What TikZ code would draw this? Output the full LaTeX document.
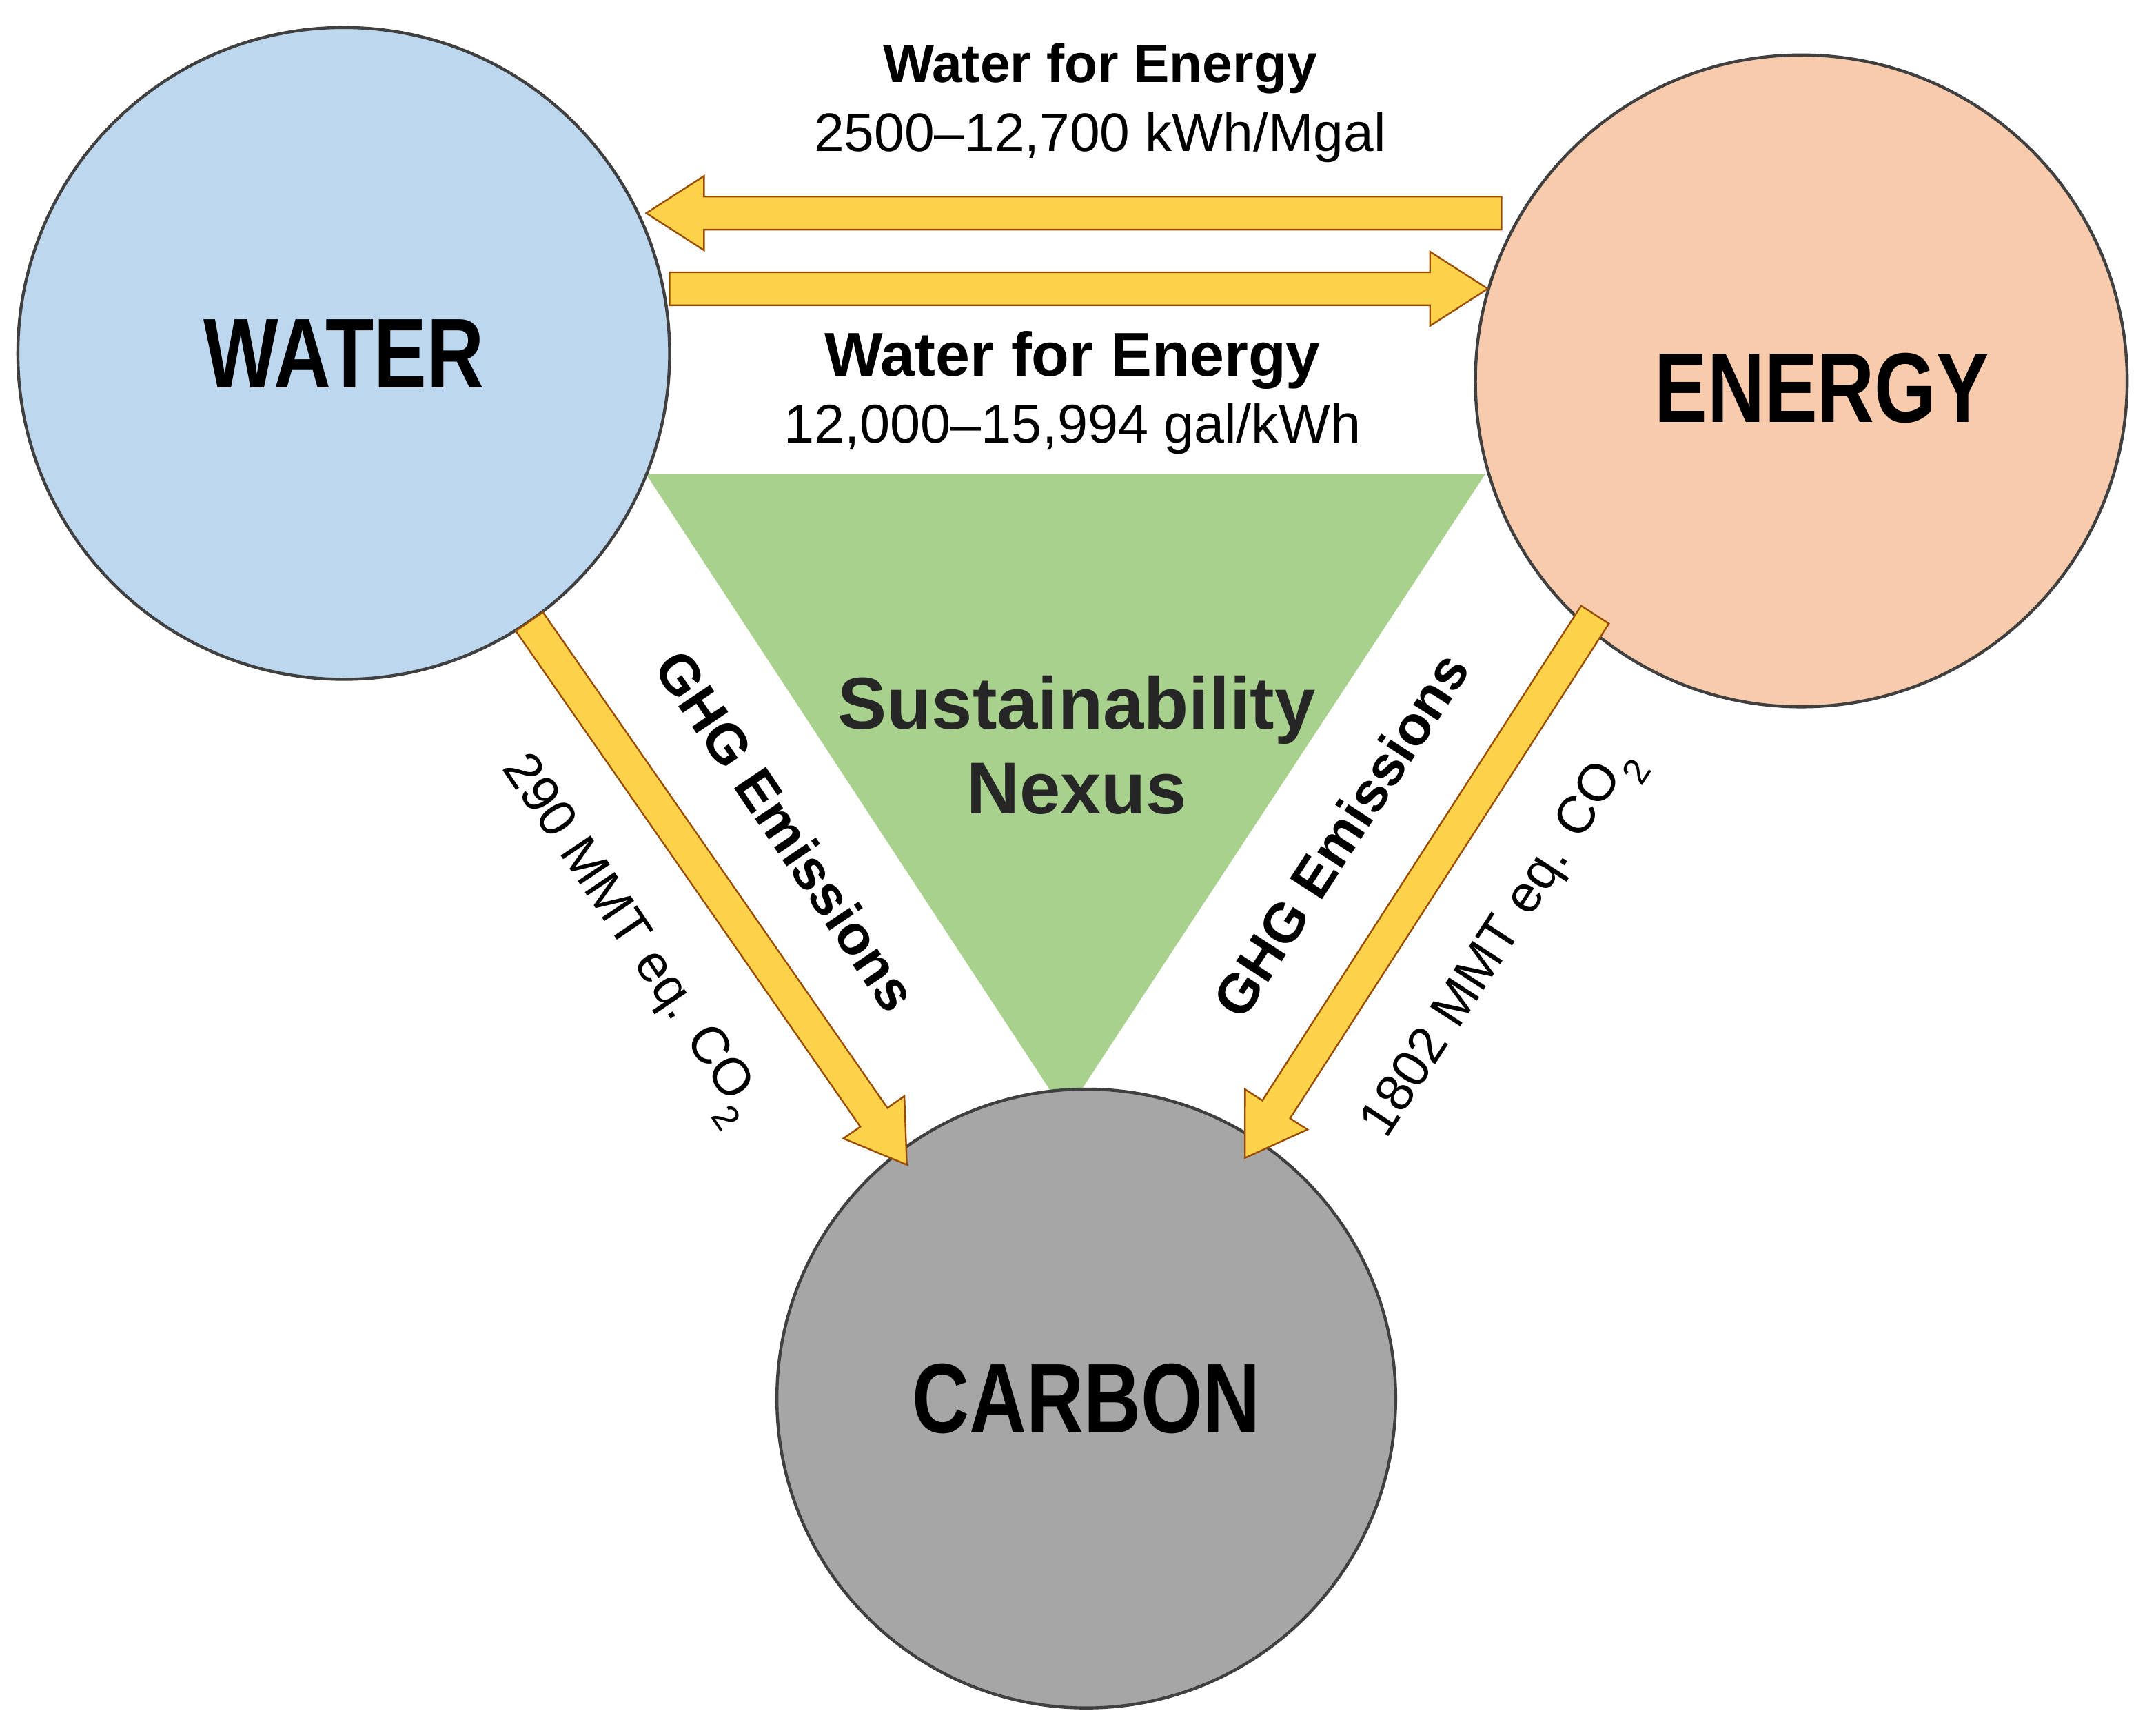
\documentclass[tikz,border=0pt]{standalone}
\usepackage{fontspec}
\setmainfont{Liberation Sans}
\begin{document}
\begin{tikzpicture}[x=1mm,y=1mm,
  circ/.style={circle,draw=black!75,line width=2.2mm,inner sep=0pt},
  big/.style={font=\fontsize{205}{215}\selectfont\bfseries},
  ghg/.style={font=\fontsize{115}{125}\selectfont\bfseries},
  mmt/.style={font=\fontsize{108}{118}\selectfont},
  fat/.style={fill=yellow!55!orange!70,draw=orange!60!black,line width=1.2mm,line join=miter}]
\useasboundingbox (0,0) rectangle (1568,1252);
\fill[fill={rgb,255:red,169;green,209;blue,142}] (470,907) -- (1080,907) -- (775,442) -- cycle;
\node[circ,minimum size=474mm,fill={rgb,255:red,189;green,215;blue,238}] (water) at (250,995) {};
\node[circ,minimum size=474mm,fill={rgb,255:red,248;green,203;blue,173}] (energy) at (1310,975) {};
\node[circ,minimum size=450mm,fill={rgb,255:red,166;green,166;blue,166}] (carbon) at (790,235) {};
\node[big,xscale=0.8] at (water) {WATER};
\node[big,xscale=0.8] at (1325,970) {ENERGY};
\node[big,xscale=0.8] at (carbon) {CARBON};
\newcommand{\fatarr}[4]{\begin{scope}[shift={(#1,#2)},rotate=#3]
 \draw[fat] (0,-12) -- (#4-42,-12) -- (#4-42,-27) -- (#4,0) -- (#4-42,27) -- (#4-42,12) -- (0,12) -- cycle;\end{scope}}
\fatarr{1092}{1097}{180}{622}
\fatarr{487}{1042}{0}{595}
\fatarr{385}{800}{-55.2}{481}
\fatarr{1160}{805}{-122.8}{470}
\node[font=\fontsize{112}{112}\selectfont\bfseries] (t1a) at (800,1202) {Water for Energy};
\node[font=\fontsize{112}{112}\selectfont] (t1b) at (800,1152) {2500–12,700 kWh/Mgal};
\node[font=\fontsize{128}{128}\selectfont\bfseries] (t2a) at (780,990) {Water for Energy};
\node[font=\fontsize{113}{113}\selectfont] (t2b) at (780,940) {12,000–15,994 gal/kWh};
\node[font=\fontsize{152}{175}\selectfont\bfseries,align=center,text=black!85] (nexus) at (783,710) {Sustainability\\Nexus};
\node[ghg,rotate=-56] at (572,648) {GHG Emissions};
\node[mmt,rotate=-56] at (456,568) {290 MMT eq. CO\textsubscript{2}};
\node[ghg,rotate=57] at (975,645) {GHG Emissions};
\node[mmt,rotate=57] at (1094,565) {1802 MMT eq. CO\textsubscript{2}};
\end{tikzpicture}
\end{document}
